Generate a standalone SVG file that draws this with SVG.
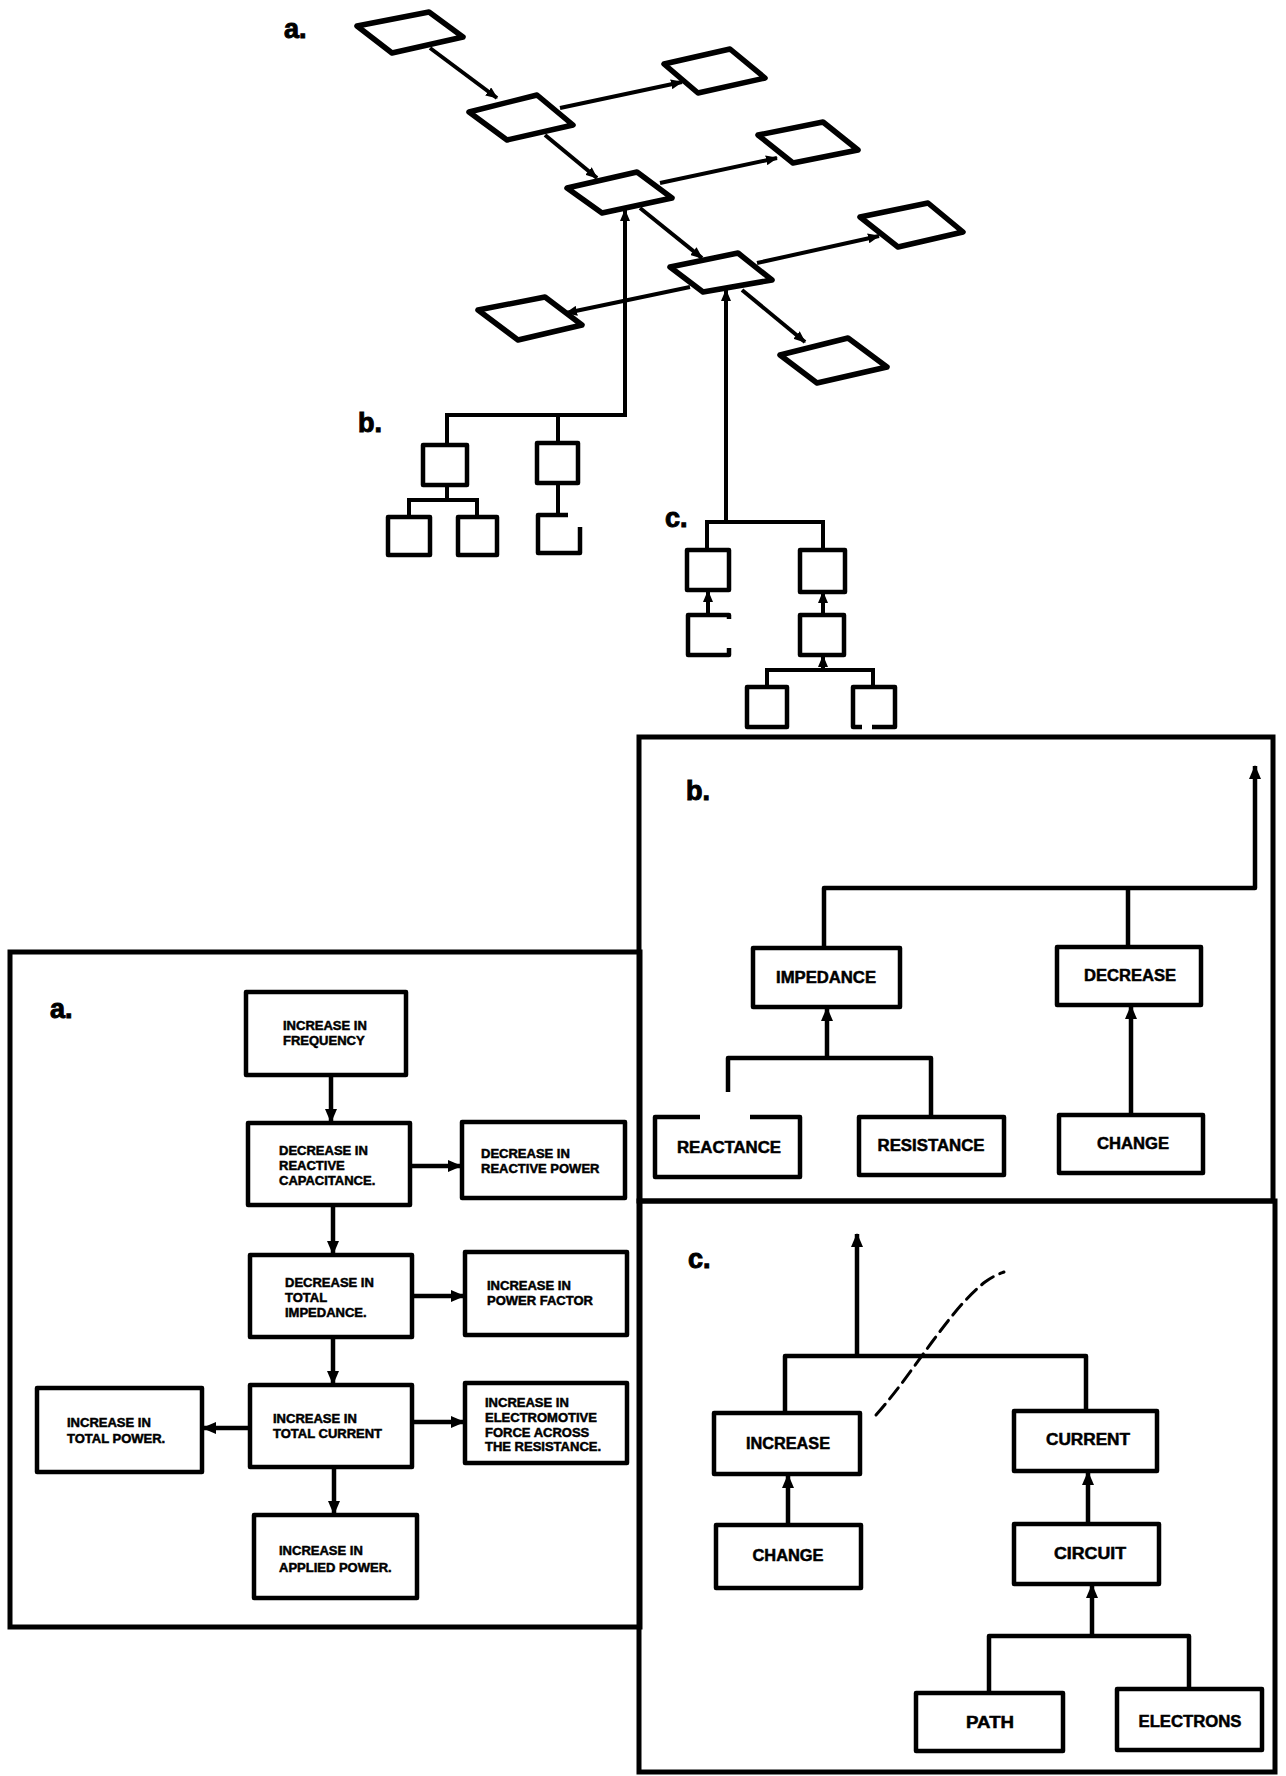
<svg xmlns="http://www.w3.org/2000/svg" width="1286" height="1776" viewBox="0 0 1286 1776">
<style>
.bg{fill:#fff}
.dia{fill:#fff;stroke:#000;stroke-width:5.5;stroke-linejoin:round}
.box{fill:#fff;stroke:#000;stroke-width:4.5;stroke-linejoin:round}
.panel{fill:none;stroke:#000;stroke-width:5}
.ln{fill:none;stroke:#000;stroke-width:4.5;stroke-linejoin:round}
.lnt{fill:none;stroke:#000;stroke-width:4}
.lbl{font-family:"Liberation Sans",Arial,sans-serif;font-weight:bold;fill:#000;stroke:#000;stroke-width:0.5}
.big{font-size:27px;stroke-width:1}
.sm{font-size:13px}
.md{font-size:16px;text-anchor:middle}
.dash{fill:none;stroke:#000;stroke-width:3;stroke-dasharray:14 7;stroke-linecap:round}
</style>
<defs>
<marker id="ah" markerUnits="userSpaceOnUse" markerWidth="14" markerHeight="12" refX="13" refY="6" orient="auto">
<path d="M0,0 L14,6 L0,12 z" fill="#000"/>
</marker>
<marker id="ahs" markerUnits="userSpaceOnUse" markerWidth="12" markerHeight="10" refX="11" refY="5" orient="auto">
<path d="M0,0 L12,5 L0,10 z" fill="#000"/>
</marker>
</defs>
<rect class="bg" x="0" y="0" width="1286" height="1776"/>

<!-- section labels -->
<text class="lbl big" x="284" y="38">a.</text>
<text class="lbl big" x="358" y="432">b.</text>
<text class="lbl big" x="665" y="527">c.</text>

<!-- connectors -->
<g id="connectors">
<!-- top diamond net -->
<line class="lnt" x1="430" y1="48" x2="497" y2="98" marker-end="url(#ahs)"/>
<line class="lnt" x1="560" y1="108" x2="682" y2="82" marker-end="url(#ahs)"/>
<line class="lnt" x1="545" y1="135" x2="597" y2="178" marker-end="url(#ahs)"/>
<line class="lnt" x1="660" y1="183" x2="777" y2="158" marker-end="url(#ahs)"/>
<line class="lnt" x1="640" y1="208" x2="702" y2="258" marker-end="url(#ahs)"/>
<line class="lnt" x1="757" y1="263" x2="879" y2="236" marker-end="url(#ahs)"/>
<line class="lnt" x1="742" y1="290" x2="805" y2="342" marker-end="url(#ahs)"/>
<line class="lnt" x1="690" y1="287" x2="566" y2="313" marker-end="url(#ahs)"/>
<!-- b tree -->
<polyline class="lnt" points="447,445 447,415 625,415 625,210" marker-end="url(#ahs)"/>
<line class="lnt" x1="558" y1="415" x2="558" y2="443"/>
<polyline class="lnt" points="447,485 447,500"/>
<polyline class="lnt" points="409,517 409,500 477,500 477,517"/>
<line class="lnt" x1="558" y1="483" x2="558" y2="515"/>
<!-- c tree -->
<polyline class="lnt" points="707,550 707,522 823,522 823,550"/>
<line class="lnt" x1="726" y1="522" x2="726" y2="290" marker-end="url(#ahs)"/>
<line class="lnt" x1="708" y1="615" x2="708" y2="591" marker-end="url(#ahs)"/>
<line class="lnt" x1="823" y1="615" x2="823" y2="592" marker-end="url(#ahs)"/>
<line class="lnt" x1="823" y1="670" x2="823" y2="656" marker-end="url(#ahs)"/>
<polyline class="lnt" points="767,687 767,670 873,670 873,687"/>

<!-- panel a -->
<line class="ln" x1="331" y1="1075" x2="331" y2="1122" marker-end="url(#ah)"/>
<line class="ln" x1="410" y1="1166" x2="461" y2="1166" marker-end="url(#ah)"/>
<line class="ln" x1="333" y1="1205" x2="333" y2="1254" marker-end="url(#ah)"/>
<line class="ln" x1="412" y1="1296" x2="464" y2="1296" marker-end="url(#ah)"/>
<line class="ln" x1="333" y1="1337" x2="333" y2="1384" marker-end="url(#ah)"/>
<line class="ln" x1="250" y1="1428" x2="203" y2="1428" marker-end="url(#ah)"/>
<line class="ln" x1="412" y1="1422" x2="464" y2="1422" marker-end="url(#ah)"/>
<line class="ln" x1="334" y1="1467" x2="334" y2="1514" marker-end="url(#ah)"/>

<!-- panel b -->
<polyline class="ln" points="824,948 824,888 1255,888 1255,766" marker-end="url(#ah)"/>
<line class="ln" x1="1128" y1="888" x2="1128" y2="947"/>
<line class="ln" x1="827" y1="1058" x2="827" y2="1008" marker-end="url(#ah)"/>
<polyline class="ln" points="728,1092 728,1058 931,1058 931,1117"/>
<line class="ln" x1="1131" y1="1115" x2="1131" y2="1006" marker-end="url(#ah)"/>

<!-- panel c -->
<polyline class="ln" points="785,1413 785,1356 1086,1356 1086,1411"/>
<line class="ln" x1="857" y1="1356" x2="857" y2="1234" marker-end="url(#ah)"/>
<line class="ln" x1="788" y1="1525" x2="788" y2="1475" marker-end="url(#ah)"/>
<line class="ln" x1="1088" y1="1524" x2="1088" y2="1472" marker-end="url(#ah)"/>
<line class="ln" x1="1092" y1="1636" x2="1092" y2="1585" marker-end="url(#ah)"/>
<polyline class="ln" points="989,1693 989,1636 1189,1636 1189,1689"/>
</g>

<!-- top diamonds -->
<g id="d1"><polygon class="dia" points="357,26 429,12 463,37 392,53"/></g>
<g id="d2"><polygon class="dia" points="469,112 537,95 573,125 507,140"/></g>
<g id="d3"><polygon class="dia" points="664,64 730,49 765,78 698,93"/></g>
<g id="d4"><polygon class="dia" points="567,188 637,172 672,198 602,213"/></g>
<g id="d5"><polygon class="dia" points="758,135 823,122 858,150 793,163"/></g>
<g id="d6"><polygon class="dia" points="670,267 738,253 772,280 703,292"/></g>
<g id="d7"><polygon class="dia" points="860,217 928,203 963,232 898,247"/></g>
<g id="d8"><polygon class="dia" points="478,310 545,297 582,325 518,340"/></g>
<g id="d9"><polygon class="dia" points="780,355 848,338 887,367 817,383"/></g>

<!-- b tree boxes -->
<g id="b1"><rect class="box" x="423" y="445" width="44" height="40"/></g>
<g id="b2"><rect class="box" x="537" y="443" width="41" height="40"/></g>
<g id="b3"><rect class="box" x="388" y="517" width="42" height="38"/></g>
<g id="b4"><rect class="box" x="458" y="517" width="39" height="38"/></g>
<g id="b5"><path class="box" d="M580,527 L580,553 L538,553 L538,515 L568,515"/></g>

<!-- c tree boxes -->
<g id="c1"><rect class="box" x="687" y="550" width="42" height="40"/></g>
<g id="c2"><rect class="box" x="800" y="550" width="45" height="42"/></g>
<g id="c3"><path class="box" fill="none" d="M729,619 L729,615 L688,615 L688,655 L729,655 L729,648"/></g>
<g id="c4"><rect class="box" x="800" y="615" width="44" height="40"/></g>
<g id="c5"><rect class="box" x="747" y="687" width="40" height="40"/></g>
<g id="c6"><path class="box" d="M862,727 L853,727 L853,687 L895,687 L895,727 L872,727"/></g>

<!-- panels -->
<g id="panel-a">
<rect class="panel" x="10" y="952" width="630" height="675"/>
<text class="lbl big" x="50" y="1018">a.</text>
</g>
<g id="panel-b">
<rect class="panel" x="639" y="737" width="634" height="464"/>
<text class="lbl big" x="686" y="800">b.</text>
</g>
<g id="panel-c">
<rect class="panel" x="639" y="1201" width="636" height="571"/>
<text class="lbl big" x="688" y="1268">c.</text>
</g>

<!-- panel a nodes -->
<g id="f1"><rect class="box" x="246" y="992" width="160" height="83"/>
<text class="lbl sm" x="283" y="1030">INCREASE IN</text><text class="lbl sm" x="283" y="1045">FREQUENCY</text></g>
<g id="f2"><rect class="box" x="248" y="1123" width="162" height="82"/>
<text class="lbl sm" x="279" y="1155">DECREASE IN</text><text class="lbl sm" x="279" y="1170">REACTIVE</text><text class="lbl sm" x="279" y="1185">CAPACITANCE.</text></g>
<g id="f3"><rect class="box" x="462" y="1122" width="163" height="76"/>
<text class="lbl sm" x="481" y="1158">DECREASE IN</text><text class="lbl sm" x="481" y="1173">REACTIVE POWER</text></g>
<g id="f4"><rect class="box" x="250" y="1255" width="162" height="82"/>
<text class="lbl sm" x="285" y="1287">DECREASE IN</text><text class="lbl sm" x="285" y="1302">TOTAL</text><text class="lbl sm" x="285" y="1317">IMPEDANCE.</text></g>
<g id="f5"><rect class="box" x="465" y="1252" width="162" height="83"/>
<text class="lbl sm" x="487" y="1290">INCREASE IN</text><text class="lbl sm" x="487" y="1305">POWER FACTOR</text></g>
<g id="f6"><rect class="box" x="250" y="1385" width="162" height="82"/>
<text class="lbl sm" x="273" y="1423">INCREASE IN</text><text class="lbl sm" x="273" y="1438">TOTAL CURRENT</text></g>
<g id="f7"><rect class="box" x="37" y="1388" width="165" height="84"/>
<text class="lbl sm" x="67" y="1427">INCREASE IN</text><text class="lbl sm" x="67" y="1443">TOTAL POWER.</text></g>
<g id="f8"><rect class="box" x="465" y="1383" width="162" height="80"/>
<text class="lbl sm" x="485" y="1407">INCREASE IN</text><text class="lbl sm" x="485" y="1422">ELECTROMOTIVE</text><text class="lbl sm" x="485" y="1437">FORCE ACROSS</text><text class="lbl sm" x="485" y="1451">THE RESISTANCE.</text></g>
<g id="f9"><rect class="box" x="254" y="1515" width="163" height="83"/>
<text class="lbl sm" x="279" y="1555">INCREASE IN</text><text class="lbl sm" x="279" y="1572">APPLIED POWER.</text></g>

<!-- panel b nodes -->
<g id="impedance"><rect class="box" x="753" y="948" width="147" height="59"/>
<text class="lbl md" x="826" y="983" textLength="100" lengthAdjust="spacingAndGlyphs">IMPEDANCE</text></g>
<g id="decrease"><rect class="box" x="1057" y="947" width="144" height="58"/>
<text class="lbl md" x="1130" y="981" textLength="92" lengthAdjust="spacingAndGlyphs">DECREASE</text></g>
<g id="reactance"><path class="box" d="M700,1117 L655,1117 L655,1177 L800,1177 L800,1117 L750,1117"/>
<text class="lbl md" x="729" y="1153" textLength="104" lengthAdjust="spacingAndGlyphs">REACTANCE</text></g>
<g id="resistance"><rect class="box" x="859" y="1117" width="145" height="58"/>
<text class="lbl md" x="931" y="1151" textLength="107" lengthAdjust="spacingAndGlyphs">RESISTANCE</text></g>
<g id="change-b"><rect class="box" x="1059" y="1115" width="144" height="58"/>
<text class="lbl md" x="1133" y="1149" textLength="72" lengthAdjust="spacingAndGlyphs">CHANGE</text></g>

<!-- panel c nodes -->
<g id="increase"><rect class="box" x="714" y="1413" width="146" height="61"/>
<text class="lbl md" x="788" y="1449" textLength="84" lengthAdjust="spacingAndGlyphs">INCREASE</text></g>
<g id="current"><rect class="box" x="1014" y="1411" width="143" height="60"/>
<text class="lbl md" x="1088" y="1445" textLength="84" lengthAdjust="spacingAndGlyphs">CURRENT</text></g>
<g id="change-c"><rect class="box" x="716" y="1525" width="145" height="63"/>
<text class="lbl md" x="788" y="1561" textLength="71" lengthAdjust="spacingAndGlyphs">CHANGE</text></g>
<g id="circuit"><rect class="box" x="1014" y="1524" width="145" height="60"/>
<text class="lbl md" x="1090" y="1559" textLength="72" lengthAdjust="spacingAndGlyphs">CIRCUIT</text></g>
<g id="path"><rect class="box" x="916" y="1693" width="147" height="58"/>
<text class="lbl md" x="990" y="1728" textLength="48" lengthAdjust="spacingAndGlyphs">PATH</text></g>
<g id="electrons"><rect class="box" x="1117" y="1689" width="145" height="61"/>
<text class="lbl md" x="1190" y="1727" textLength="103" lengthAdjust="spacingAndGlyphs">ELECTRONS</text></g>

<!-- pen stroke -->
<path class="dash" d="M876,1415 C898,1390 915,1365 932,1342 C950,1318 965,1298 985,1282 C993,1276 999,1274 1004,1272"/>
</svg>
